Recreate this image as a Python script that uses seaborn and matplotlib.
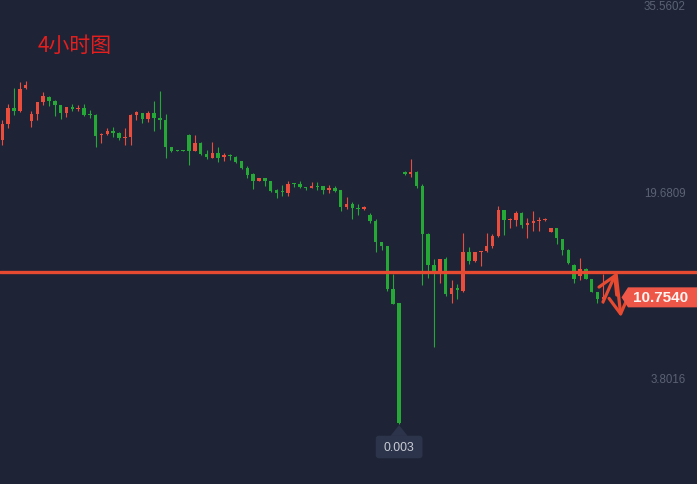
import matplotlib
matplotlib.use("Agg")
from matplotlib import pyplot as plt
import matplotlib.transforms as mtransforms
from matplotlib.patches import Polygon, FancyBboxPatch
import numpy as np
import pandas as pd
import seaborn as sns

# 4h candles (red = close above open, green = below)
opens = [24.18, 25.51, 26.87, 26.62, 28.58, 25.77, 26.36, 27.39, 27.81, 27.47,
         27.13, 26.45, 26.96, 26.79, 26.87, 26.36, 26.28, 24.58, 24.66, 24.92,
         24.75, 24.32, 24.41, 26.28, 26.45, 25.94, 26.45, 26.02, 25.85, 23.56,
         23.25, 23.25, 24.58, 23.22, 23.89, 22.96, 22.62, 23.04, 22.70, 22.87,
         22.70, 22.36, 21.77, 21.26, 20.66, 20.92, 20.66, 19.89, 19.81, 19.64,
         20.49, 20.41, 20.15, 20.07, 20.24, 20.24, 19.89, 20.07, 19.89, 18.45,
         18.70, 18.36, 18.28, 17.77, 17.26, 15.47, 15.12, 11.47, 10.27, 21.43,
         21.26, 21.43, 20.24, 16.14, 13.51, 12.83, 14.02, 11.04, 11.55, 11.30,
         14.62, 13.85, 14.62, 14.70, 15.12, 15.97, 18.19, 17.34, 17.34, 17.94,
         16.91, 17.09, 17.26, 17.34, 16.31, 16.66, 15.72, 14.79, 13.51, 12.57,
         13.16, 12.32, 11.21, 10.61]
highs = [25.85, 27.22, 28.58, 29.09, 29.18, 26.62, 27.39, 28.24, 27.89, 27.56,
         27.13, 26.96, 27.22, 27.13, 27.22, 26.71, 26.36, 24.75, 25.17, 25.26,
         24.83, 25.17, 26.36, 26.62, 26.45, 26.62, 27.47, 28.32, 26.36, 23.56,
         23.27, 23.27, 24.66, 24.58, 23.98, 23.30, 23.98, 23.56, 23.04, 22.96,
         22.79, 22.36, 21.94, 21.34, 20.92, 20.92, 20.66, 19.98, 20.32, 20.66,
         20.49, 20.66, 20.15, 20.57, 20.57, 20.24, 20.32, 20.24, 19.89, 19.30,
         18.87, 18.70, 18.53, 17.94, 17.43, 15.47, 15.12, 12.74, 10.27, 21.51,
         22.53, 21.51, 20.41, 16.23, 14.02, 14.02, 14.19, 12.23, 11.89, 16.23,
         15.04, 14.62, 14.70, 16.23, 16.14, 18.53, 18.19, 17.51, 18.11, 18.02,
         17.51, 18.11, 17.60, 17.51, 16.66, 16.66, 15.72, 14.87, 13.59, 14.11,
         13.25, 12.32, 11.21, 12.74]
lows = [23.75, 25.17, 26.31, 26.53, 28.49, 25.26, 25.85, 27.13, 27.05, 26.19,
        25.94, 26.11, 26.62, 26.62, 26.19, 26.02, 23.56, 23.89, 24.58, 24.41,
        24.15, 23.73, 23.73, 25.85, 25.60, 25.68, 24.92, 25.09, 22.62, 23.13,
        23.25, 23.25, 22.02, 23.22, 22.87, 22.53, 22.62, 22.28, 22.36, 22.45,
        22.19, 21.68, 20.92, 19.98, 20.66, 20.24, 19.72, 19.21, 19.38, 19.38,
        20.15, 20.07, 19.89, 20.07, 19.89, 19.55, 19.64, 19.72, 18.11, 18.28,
        17.43, 17.77, 18.19, 17.09, 14.62, 14.79, 11.30, 10.19, 0.003, 21.17,
        21.00, 20.07, 11.81, 12.40, 6.53, 11.98, 10.87, 10.27, 10.61, 11.21,
        13.59, 13.77, 13.42, 14.62, 14.96, 15.89, 16.06, 16.66, 16.83, 16.66,
        15.81, 16.40, 16.40, 17.26, 16.31, 15.30, 14.36, 13.59, 11.98, 12.23,
        12.32, 11.21, 10.27, 10.27]
closes = [25.51, 26.87, 26.62, 28.49, 28.83, 26.36, 27.39, 27.89, 27.47, 27.13,
          26.45, 26.96, 26.79, 26.87, 26.28, 26.31, 24.49, 24.66, 24.92, 24.75,
          24.32, 24.41, 26.28, 26.53, 25.94, 26.45, 26.02, 25.85, 23.56, 23.22,
          23.25, 23.25, 23.22, 23.89, 22.96, 22.70, 23.04, 22.62, 22.87, 22.79,
          22.28, 21.77, 21.17, 20.66, 20.92, 20.66, 19.81, 19.64, 19.72, 20.41,
          20.41, 20.15, 20.07, 20.24, 20.15, 19.89, 20.07, 19.81, 18.45, 18.70,
          18.36, 18.28, 18.45, 17.26, 15.47, 15.12, 11.47, 10.19, 0.06, 21.26,
          21.43, 20.24, 16.14, 13.51, 12.99, 14.02, 11.04, 11.55, 11.38, 14.62,
          13.85, 14.62, 14.70, 15.12, 15.97, 18.19, 17.34, 17.43, 17.94, 16.91,
          17.09, 17.26, 17.34, 17.43, 16.66, 15.81, 14.79, 13.68, 12.32, 13.16,
          12.32, 11.21, 10.61, 10.754]

title = "4小时图"
price_ticks = [35.5602, 19.6809, 3.8016]
last_price = 10.754
low_label = "0.003"
level = 12.91  # hand drawn support line
# hand drawn zigzag arrow (candle index, price)
arrow_up = [(102.95, 10.36), (105.18, 12.83)]
arrow_down = [(105.18, 12.83), (106.03, 9.08)]

bg = "#1e2336"
up_col = "#eb4d3d"
down_col = "#25a836"
line_col = "#e64a30"
tick_col = "#5b6274"

df = pd.DataFrame({"open": opens, "high": highs, "low": lows, "close": closes})
df["idx"] = np.arange(len(df))
df["up"] = df["close"] > df["open"]

sns.set_theme(style="dark", rc={"axes.facecolor": bg, "figure.facecolor": bg})
plt.rcParams["font.family"] = ["Liberation Sans", "Noto Sans CJK SC", "DejaVu Sans"]

fig = plt.figure(figsize=(6.97, 4.85), dpi=100)
ax = fig.add_axes([0, 0, 1, 1])
ax.set_xlim(-0.39, 119.06)
ax.set_ylim(-5.14, 36.16)
ax.axis("off")

colors = np.where(df["up"], up_col, down_col)
ax.vlines(df["idx"], df["low"], df["high"], colors=colors, linewidth=0.8, zorder=2)
body = (df["close"] - df["open"]).abs().clip(lower=0.09)
bottom = df[["open", "close"]].min(axis=1)
ax.bar(df["idx"], body, bottom=bottom, width=0.6, color=colors, linewidth=0, zorder=3)

# support line + arrows
ax.axhline(level, color=line_col, lw=2.4, zorder=4)
for a in (arrow_up, arrow_down):
    ax.annotate("", xy=a[1], xytext=a[0],
                arrowprops=dict(arrowstyle="->,head_length=0.6,head_width=0.35",
                                color=line_col, lw=2.3, shrinkA=0, shrinkB=0,
                                mutation_scale=20), zorder=5)

# price scale labels
ytrans = mtransforms.blended_transform_factory(ax.transAxes, ax.transData)
for v in price_ticks:
    ax.text(0.984, v, f"{v:.4f}", transform=ytrans, ha="right", va="center",
            color=tick_col, fontsize=8.3)

ax.text(0.0545, 0.905, title, transform=ax.transAxes, ha="left", va="center",
        fontsize=15, color="#e61e1e", family=["Noto Sans CJK SC", "DejaVu Sans"])

# tooltip under the lowest low
i_low = int(df["low"].idxmin())
T = fig.dpi_scale_trans + mtransforms.ScaledTranslation(i_low, df["low"][i_low], ax.transData)
tip_bg = "#2c344b"
ax.add_patch(FancyBboxPatch((-0.233, -0.347), 0.467, 0.226,
                            boxstyle="round,pad=0,rounding_size=0.03",
                            transform=T, fc=tip_bg, ec="none", zorder=6))
ax.add_patch(Polygon([(-0.085, -0.122), (0.085, -0.122), (0, -0.015)],
                     closed=True, transform=T, fc=tip_bg, ec="none", zorder=6))
ax.text(0, -0.234, low_label, transform=T, ha="center", va="center",
        color="#c9ccd4", fontsize=8.8, zorder=7)

# last price label
T2 = fig.dpi_scale_trans + mtransforms.ScaledTranslation(1, last_price, ytrans)
ax.add_patch(Polygon([(-0.755, 0.0), (-0.69, 0.10), (0, 0.10), (0, -0.10), (-0.69, -0.10)],
                     closed=True, transform=T2, fc="#ee5748", ec="none", zorder=8))
ax.text(-0.365, 0.0, f"{last_price:.4f}", transform=T2, ha="center", va="center",
        color="#fff4f2", fontsize=11, fontweight="bold", zorder=9)

fig.savefig("out.png", dpi=100, facecolor=bg)
